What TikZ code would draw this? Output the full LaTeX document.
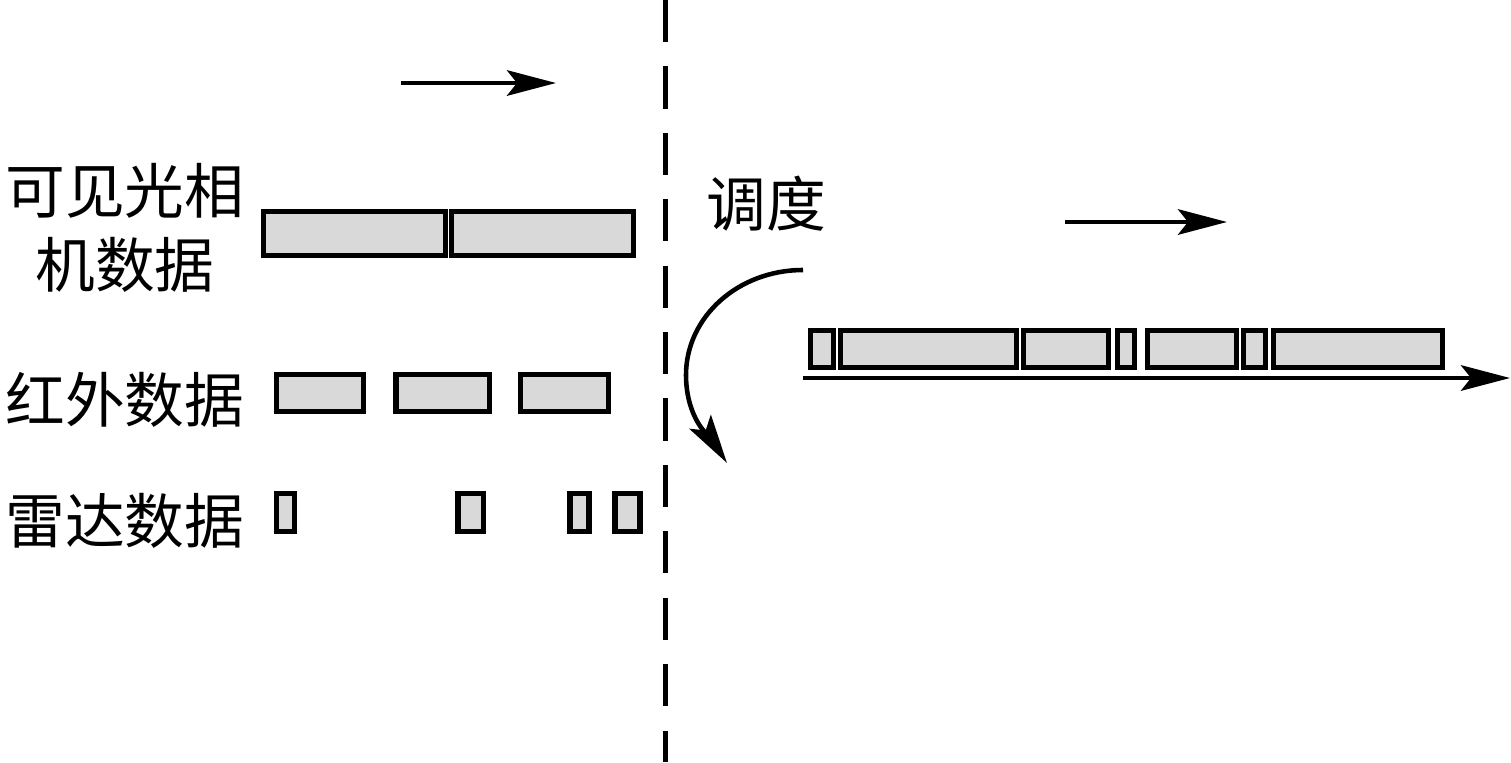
\documentclass[tikz,border=0pt]{standalone}
\usepackage{fontspec}
\newfontfamily\cjk{Noto Sans CJK SC}
\usetikzlibrary{arrows.meta}

\tikzset{
  databox/.style={draw, line width=3pt, fill=black!15, inner sep=0pt, minimum height=#1},
  databox/.default=0.74cm,
  flow/.style={line width=2.6pt, -{Stealth[length=27.9pt, width=14.5pt, inset=5.7pt]}},
  rowname/.style={font=\cjk\fontsize{34}{42}\selectfont, align=center, inner sep=0pt},
}

\begin{document}
\begin{tikzpicture}[x=0.02cm, y=-0.02cm]
    \useasboundingbox (0,0) rectangle (1511,762);

    % divider between the two halves
    \coordinate (divtop) at (665.5,0);
    \coordinate (divbot) at (665.5,762);
    \draw[line width=2.9pt, dash pattern=on 24pt off 13.8pt] (divtop) -- (divbot);

    % row names
    \node[rowname] (camname) at (125,228) {可见光相\\机数据};
    \node[rowname] (irname) at (125,400) {红外数据};
    \node[rowname] (radarname) at (125,521) {雷达数据};
    \node[rowname] (sched) at (766,204) {调度};

    % camera blocks
    \foreach \a/\b [count=\i] in {263.5/445.5, 451.5/633.5}
        \node[databox=0.88cm, minimum width={(\b-\a)*0.02cm}] (cam\i) at ({(\a+\b)/2},233.5) {};

    % infrared blocks
    \foreach \a/\b [count=\i] in {276.5/363.5, 396/489.5, 520.5/608.5}
        \node[databox=0.74cm, minimum width={(\b-\a)*0.02cm}] (ir\i) at ({(\a+\b)/2},393) {};

    % radar blocks
    \foreach \a/\b [count=\i] in {276.5/294.5, 458/483.5, 570/589, 615/640}
        \node[databox=0.76cm, minimum width={(\b-\a)*0.02cm}] (radar\i) at ({(\a+\b)/2},512.5) {};

    % merged stream after scheduling
    \foreach \a/\b [count=\i] in {810.5/833.5, 840.5/1016.5, 1023.5/1108.5, 1117.5/1134.5,
                                  1147.5/1236.5, 1243.5/1265.5, 1273.5/1442.5}
        \node[databox, minimum width={(\b-\a)*0.02cm}] (out\i) at ({(\a+\b)/2},349) {};

    % time direction
    \coordinate (leftfrom) at (401,83);
    \coordinate (leftto) at (556,83);
    \draw[flow] (leftfrom) -- (leftto);
    \coordinate (rightfrom) at (1065,222);
    \coordinate (rightto) at (1227,222);
    \draw[flow] (rightfrom) -- (rightto);

    % time axis
    \coordinate (axisfrom) at (803,378);
    \coordinate (axisto) at (1510,378);
    \draw[flow] (axisfrom) -- (axisto);

    % scheduling turn
    \coordinate (turnfrom) at (803,270);
    \coordinate (turnmid) at (686,375);
    \coordinate (turnto) at (727,463);
    \draw[flow] (turnfrom) .. controls (738,270) and (686,317) .. (turnmid)
        .. controls (686,420) and (712,440) .. (turnto);
\end{tikzpicture}
\end{document}
